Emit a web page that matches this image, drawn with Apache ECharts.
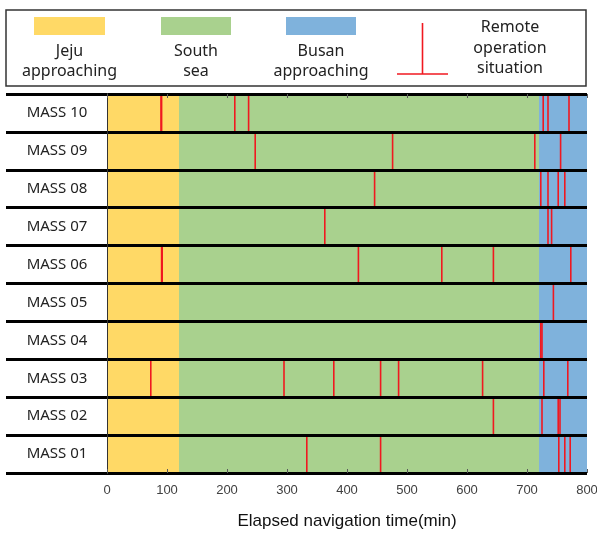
<!DOCTYPE html>
<html><head><meta charset="utf-8">
<script src="https://cdn.jsdelivr.net/npm/echarts@6/dist/echarts.min.js"></script>
<style>html,body{margin:0;padding:0;background:#fff}#c{width:597px;height:534px}</style>
</head><body><div id="c"></div>
<script>
// ---- data ----
const shipNames = ['MASS 01','MASS 02','MASS 03','MASS 04','MASS 05','MASS 06','MASS 07','MASS 08','MASS 09','MASS 10'];
const phaseNames = ['Jeju\napproaching','South\nsea','Busan\napproaching'];
const phaseStart = [0, 120, 720];
const phaseEnd = [120, 720, 800];
const phaseColors = ['#FFD966','#A9D18E','#7FB2DC'];
const remoteLabel = 'Remote\noperation\nsituation';
const axisTitle = 'Elapsed navigation time(min)';
const xMin = 0, xMax = 800, xStep = 100;

// remote operation moments (min) per ship
const opsMASS01 = [333, 456, 753, 763, 772];
const opsMASS02 = [644, 725, 752, 755];
const opsMASS03 = [73, 295, 378, 456, 486, 626, 728, 768];
const opsMASS04 = [723, 725];
const opsMASS05 = [744];
const opsMASS06 = [91, 92, 419, 558, 644, 773];
const opsMASS07 = [363, 735, 741];
const opsMASS08 = [446, 723, 735, 752, 763];
const opsMASS09 = [247, 476, 713, 756];
const opsMASS10 = [90, 91, 213, 236, 727, 735, 770];
const opsByShip = [opsMASS01, opsMASS02, opsMASS03, opsMASS04, opsMASS05, opsMASS06, opsMASS07, opsMASS08, opsMASS09, opsMASS10];

// ---- build ----
const bandData = [];
shipNames.forEach((s, i) => {
  phaseStart.forEach((st, p) => bandData.push([st, phaseEnd[p], i, p]));
});
const opData = [];
opsByShip.forEach((arr, i) => arr.forEach(t => opData.push([t, i])));

const chart = echarts.init(document.getElementById('c'), null, {renderer: 'canvas'});
const legendX = [69.5, 196, 321];
const legendSw = [[34, 71], [161, 70], [286, 70]];
const graphics = [
  {type: 'rect', shape: {x: 6, y: 10, width: 580, height: 76}, style: {fill: '#fff', stroke: '#333', lineWidth: 1.5}, z: 0}
];
phaseNames.forEach((n, p) => {
  graphics.push({type: 'rect', shape: {x: legendSw[p][0], y: 17, width: legendSw[p][1], height: 18}, style: {fill: phaseColors[p]}, z: 1});
  graphics.push({type: 'text', x: legendX[p], y: 41, style: {text: n, fill: '#222', font: '16px "Noto Sans"', align: 'center', verticalAlign: 'top', lineHeight: 20.5}, z: 1});
});
graphics.push({type: 'line', shape: {x1: 422.5, y1: 23, x2: 422.5, y2: 74}, style: {stroke: '#f01820', lineWidth: 1.6}, z: 1});
graphics.push({type: 'line', shape: {x1: 397, y1: 74, x2: 448, y2: 74}, style: {stroke: '#f01820', lineWidth: 1.6}, z: 1});
graphics.push({type: 'text', x: 510, y: 17.5, style: {text: remoteLabel, fill: '#222', font: '16px "Noto Sans"', align: 'center', verticalAlign: 'top', lineHeight: 20.5}, z: 1});

chart.setOption({
  animation: false,
  backgroundColor: '#fff',
  graphic: graphics,
  grid: {left: 107, right: 10, top: 94, bottom: 61, containLabel: false, outerBoundsMode: 'none'},
  xAxis: [{
    type: 'value', min: xMin, max: xMax, interval: xStep, position: 'bottom', z: 10,
    axisLine: {show: false},
    axisTick: {show: true, inside: true, length: 4, lineStyle: {color: '#595959', width: 1}},
    axisLabel: {fontSize: 13, color: '#404040', fontFamily: '"Liberation Sans", Arial', margin: 11},
    splitLine: {show: false},
    name: axisTitle, nameLocation: 'middle', nameGap: 40,
    nameTextStyle: {fontSize: 17, color: '#111', fontFamily: '"Liberation Sans", Arial'}
  }, {
    type: 'value', min: xMin, max: xMax, interval: xStep, position: 'top', z: 10,
    axisLine: {show: false},
    axisTick: {show: true, inside: true, length: 4, lineStyle: {color: '#595959', width: 1}},
    axisLabel: {show: false}, splitLine: {show: false}
  }],
  yAxis: [{
    type: 'category', data: shipNames, position: 'left', z: 10,
    axisLine: {show: true, lineStyle: {color: '#8a8a8a', width: 1}},
    axisTick: {show: true, interval: 0, length: 101, lineStyle: {color: '#000', width: 3}},
    axisLabel: {interval: 0, align: 'center', margin: 50, fontSize: 15, color: '#222', fontFamily: '"Noto Sans"'},
    splitLine: {show: true, interval: 0, lineStyle: {color: '#000', width: 3}}
  }, {
    type: 'category', data: shipNames, position: 'right', z: 10,
    axisLine: {show: true, lineStyle: {color: '#333', width: 1}},
    axisTick: {show: false}, axisLabel: {show: false}, splitLine: {show: false}
  }],
  series: [{
    type: 'custom', xAxisIndex: 0, yAxisIndex: 0, z: 2,
    encode: {x: [0, 1], y: 2},
    data: bandData,
    renderItem: function (params, api) {
      const a = api.coord([api.value(0), api.value(2)]);
      const b = api.coord([api.value(1), api.value(2)]);
      const h = api.size([0, 1])[1];
      return {type: 'rect', shape: {x: a[0], y: a[1] - h / 2, width: b[0] - a[0], height: h},
        style: {fill: phaseColors[api.value(3)]}};
    }
  }, {
    type: 'custom', xAxisIndex: 0, yAxisIndex: 0, z: 3,
    encode: {x: 0, y: 1},
    data: opData,
    renderItem: function (params, api) {
      const p = api.coord([api.value(0), api.value(1)]);
      const h = api.size([0, 1])[1];
      return {type: 'rect', shape: {x: p[0] - 0.8, y: p[1] - h / 2, width: 1.6, height: h},
        style: {fill: '#f01820'}};
    }
  }]
});
</script></body></html>
